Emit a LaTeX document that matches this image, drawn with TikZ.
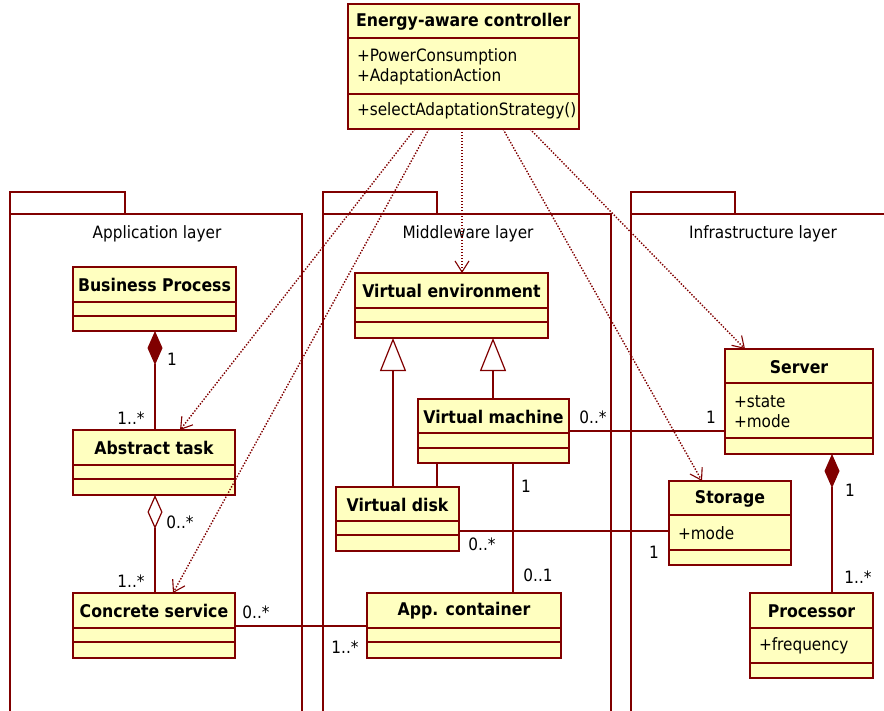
\documentclass[tikz,border=0pt]{standalone}
\usepackage{fontspec}
\setmainfont{DejaVu Sans Condensed}
\usetikzlibrary{arrows.meta}

\definecolor{umlline}{RGB}{128,0,0}
\definecolor{umlfill}{RGB}{255,255,192}

% class box: name, x1, y1, x2, y2, first divider, second divider, title
\newcommand\umlclass[8]{%
  \node[cls, minimum width={#4-#2}, minimum height={#5-#3}] (#1) at (#2,#3) {};
  \draw[umlline, line width=1.2pt] (#2,#6) -- (#4,#6) (#2,#7) -- (#4,#7);
  \node[ttl] (#1-title) at ({(#2+#4)/2},{#3+18}) {#8};
}

\begin{document}
\begin{tikzpicture}[x=1pt,y=-1pt,
  every node/.style={inner sep=0pt, outer sep=0pt, font=\fontsize{17}{20}\selectfont},
  cls/.style={draw=umlline, fill=umlfill, line width=1.2pt, rectangle, anchor=north west},
  ttl/.style={font=\fontsize{17.5}{20}\selectfont\bfseries},
  attr/.style={anchor=west},
  pkg/.style={draw=umlline, line width=1.2pt},
  assoc/.style={draw=umlline, line width=1.2pt},
  comp/.style={assoc, {Diamond[length=34pt,width=15pt,fill=umlline]}-},
  aggr/.style={assoc, {Diamond[open,length=34pt,width=15pt]}-},
  gen/.style={assoc, -{Triangle[open,length=33pt,width=26pt]}},
  dep/.style={draw=umlline, line width=1.4pt, dash pattern=on 1.4pt off 1.6pt,
              -{Straight Barb[length=11pt,width=14pt,line width=1.1pt]}},
]
\useasboundingbox (0,0) rectangle (884,710);
\clip (0,0) rectangle (884,710);

% packages
\draw[pkg] (10,192) rectangle (125,214);
\draw[pkg] (10,720) -- (10,214) -- (302,214) -- (302,720);
\node (pkg-app) at (157,234) {Application layer};

\draw[pkg] (323,192) rectangle (437,214);
\draw[pkg] (323,720) -- (323,214) -- (611,214) -- (611,720);
\node (pkg-mid) at (468,234) {Middleware layer};

\draw[pkg] (631,192) rectangle (735,214);
\draw[pkg] (631,720) -- (631,214) -- (900,214);
\node (pkg-inf) at (763,234) {Infrastructure layer};

% controller
\umlclass{ec}{348}{4}{579}{129}{38}{94}{Energy-aware controller}
\node[attr] (ec-a1) at (357,57) {+PowerConsumption};
\node[attr] (ec-a2) at (357,77) {+AdaptationAction};
\node[attr] (ec-o1) at (357,111) {+selectAdaptationStrategy()};

% application layer
\umlclass{bp}{73}{267}{236}{331}{302}{316}{Business Process}
\umlclass{at}{73}{430}{235}{495}{465}{479}{Abstract task}
\umlclass{cs}{73}{593}{235}{658}{628}{642}{Concrete service}

% middleware layer
\umlclass{ve}{355}{273}{548}{338}{308}{322}{Virtual environment}
\umlclass{vm}{418}{399}{569}{463}{433}{448}{Virtual machine}
\umlclass{vd}{336}{487}{459}{551}{521}{535}{Virtual disk}
\umlclass{ac}{367}{593}{561}{658}{628}{642}{App. container}

% infrastructure layer
\umlclass{sv}{725}{349}{873}{454}{383}{438}{Server}
\node[attr] (sv-a1) at (734,402) {+state};
\node[attr] (sv-a2) at (734,421) {+mode};
\umlclass{st}{669}{481}{791}{565}{515}{550}{Storage}
\node[attr] (st-a1) at (678,533) {+mode};
\umlclass{pr}{750}{593}{873}{678}{628}{663}{Processor}
\node[attr] (pr-a1) at (759,646) {+frequency};

% compositions and aggregation
\draw[comp] ([xshift=82pt]bp.south west) -- ([xshift=82pt]at.north west);
\node (m1) at (172,359) {1};
\node (m2) at (131,418) {1..*};
\draw[aggr] ([xshift=82pt]at.south west) -- ([xshift=82pt]cs.north west);
\node (m3) at (180,522) {0..*};
\node (m4) at (131,581) {1..*};
\draw[comp] ([xshift=107pt]sv.south west) -- ([xshift=82pt]pr.north west);
\node (m5) at (850,490) {1};
\node (m6) at (858,577) {1..*};

% associations
\draw[assoc] ([yshift=-33pt]cs.north east) -- ([yshift=-33pt]ac.north west);
\node (m7) at (256,612) {0..*};
\node (m8) at (345,647) {1..*};
\draw[assoc] ([yshift=-32pt]vm.north east) -- ([yshift=-82pt]sv.north west);
\node (m9) at (593,417) {0..*};
\node (m10) at (711,417) {1};
\draw[assoc] ([yshift=-44pt]vd.north east) -- ([yshift=-50pt]st.north west);
\node (m11) at (482,544) {0..*};
\node (m12) at (654,552) {1};
\draw[assoc] ([xshift=95pt]vm.south west) -- ([xshift=146pt]ac.north west);
\node (m13) at (526,486) {1};
\node (m14) at (538,575) {0..1};
\draw[assoc] ([xshift=19pt]vm.south west) -- ([xshift=101pt]vd.north west);

% generalizations
\draw[gen] ([xshift=57pt]vd.north west) -- ([xshift=38pt]ve.south west);
\draw[gen] ([xshift=75pt]vm.north west) -- ([xshift=138pt]ve.south west);

% dependencies from the controller
\draw[dep] ([xshift=67pt]ec.south west) -- ([xshift=107pt]at.north west);
\draw[dep] ([xshift=81pt]ec.south west) -- ([xshift=100pt]cs.north west);
\draw[dep] ([xshift=114pt]ec.south west) -- ([xshift=107pt]ve.north west);
\draw[dep] ([xshift=155pt]ec.south west) -- ([xshift=33pt]st.north west);
\draw[dep] ([xshift=182pt]ec.south west) -- ([xshift=20pt]sv.north west);
\end{tikzpicture}
\end{document}
